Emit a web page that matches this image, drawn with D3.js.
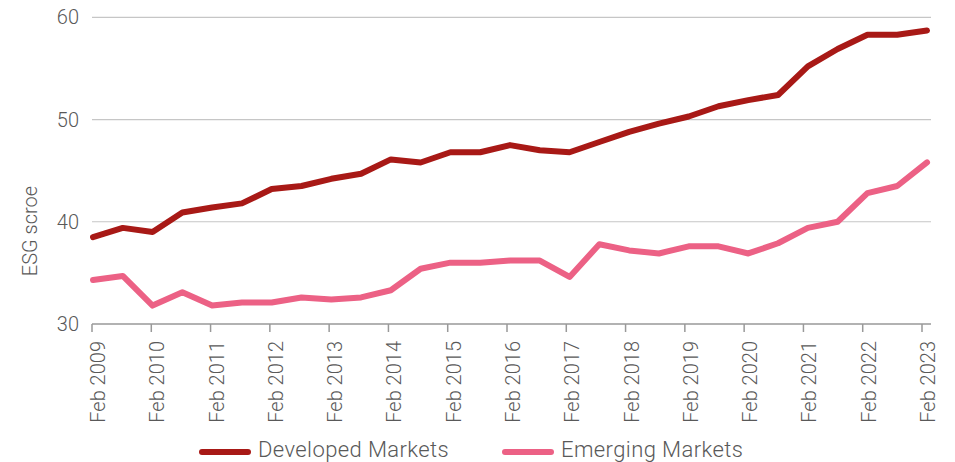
<!DOCTYPE html>
<html>
<head>
<meta charset="utf-8">
<script src="https://cdn.jsdelivr.net/npm/d3@7"></script>
<style>
  html, body { margin: 0; padding: 0; background: #fff; }
  svg { display: block; }
  text { font-family: Roboto, "Open Sans", sans-serif; font-weight: 300; fill: #595959; }
</style>
</head>
<body>
<svg id="chart" width="955" height="462"></svg>
<script>
// ---- Data ----
const periods = ["Feb 2009","Aug 2009","Feb 2010","Aug 2010","Feb 2011","Aug 2011","Feb 2012","Aug 2012",
  "Feb 2013","Aug 2013","Feb 2014","Aug 2014","Feb 2015","Aug 2015","Feb 2016","Aug 2016",
  "Feb 2017","Aug 2017","Feb 2018","Aug 2018","Feb 2019","Aug 2019","Feb 2020","Aug 2020",
  "Feb 2021","Aug 2021","Feb 2022","Aug 2022","Feb 2023"];
const developed = [38.5,39.4,39.0,40.9,41.4,41.8,43.2,43.5,44.2,44.7,46.1,45.8,46.8,46.8,47.5,47.0,
  46.8,47.8,48.8,49.6,50.3,51.3,51.9,52.4,55.2,56.9,58.3,58.3,58.7];
const emerging = [34.3,34.7,31.8,33.1,31.8,32.1,32.1,32.6,32.4,32.6,33.3,35.4,36.0,36.0,36.2,36.2,
  34.6,37.8,37.2,36.9,37.6,37.6,36.9,37.9,39.4,40.0,42.8,43.5,45.8];
const tickYears = [2009,2010,2011,2012,2013,2014,2015,2016,2017,2018,2019,2020,2021,2022,2023];
const tickLabels = tickYears.map(y => "Feb " + y);
const yTicks = [30,40,50,60];
const seriesNames = ["Developed Markets","Emerging Markets"];
const seriesColors = ["#A81916","#EC6185"];
const yTitle = "ESG scroe";

// ---- Layout ----
const svg = d3.select("#chart");
const plotLeft = 92, plotRight = 931, plotTop = 17.3, plotBottom = 324;

const y = d3.scaleLinear().domain([30, 60]).range([plotBottom, plotTop]);
const xData = d3.scaleLinear().domain([0, periods.length - 1]).range([93, 927]);
const xTick = d3.scaleLinear().domain([2009, 2023]).range([92, 922]);

// gridlines
svg.append("g").selectAll("line").data(yTicks.filter(t => t > 30)).join("line")
  .attr("x1", plotLeft).attr("x2", plotRight)
  .attr("y1", d => y(d)).attr("y2", d => y(d))
  .attr("stroke", "#c6c6c6").attr("stroke-width", 1.2);

// y labels
svg.append("g").selectAll("text").data(yTicks).join("text")
  .attr("x", 79).attr("y", d => y(d)).attr("dy", "0.35em")
  .attr("text-anchor", "end").attr("font-size", 20)
  .text(d => d);

// y title
svg.append("text")
  .attr("transform", "translate(37,231) rotate(-90)")
  .attr("text-anchor", "middle").attr("font-size", 20)
  .text(yTitle);

// x axis
const xAxis = svg.append("g").attr("transform", `translate(0,${plotBottom})`);
xAxis.append("line").attr("x1", plotLeft).attr("x2", plotRight).attr("y1", 0).attr("y2", 0)
  .attr("stroke", "#999").attr("stroke-width", 1.5);
xAxis.selectAll("line.tick").data(tickYears).join("line").attr("class", "tick")
  .attr("x1", d => xTick(d)).attr("x2", d => xTick(d)).attr("y1", 0).attr("y2", 8)
  .attr("stroke", "#999").attr("stroke-width", 1.5);
xAxis.selectAll("text").data(tickYears).join("text")
  .attr("transform", d => `translate(${xTick(d) + 13},17) rotate(-90)`)
  .attr("text-anchor", "end").attr("font-size", 20)
  .text((d, i) => tickLabels[i]);

// lines
const line = d3.line().x((d, i) => xData(i)).y(d => y(d));
[developed, emerging].forEach((vals, k) => {
  svg.append("path").datum(vals)
    .attr("d", line)
    .attr("fill", "none")
    .attr("stroke", seriesColors[k])
    .attr("stroke-width", 6)
    .attr("stroke-linejoin", "round")
    .attr("stroke-linecap", "round");
});

// legend
const legendX = [202, 505];
seriesNames.forEach((name, k) => {
  const g = svg.append("g").attr("transform", `translate(${legendX[k]},452)`);
  g.append("line").attr("x1", 0).attr("x2", 46).attr("y1", 0).attr("y2", 0)
    .attr("stroke", seriesColors[k]).attr("stroke-width", 6).attr("stroke-linecap", "round");
  g.append("text").attr("x", 56).attr("y", 4.7)
    .attr("font-size", 22).attr("letter-spacing", "0.4px").text(name);
});
</script>
</body>
</html>
